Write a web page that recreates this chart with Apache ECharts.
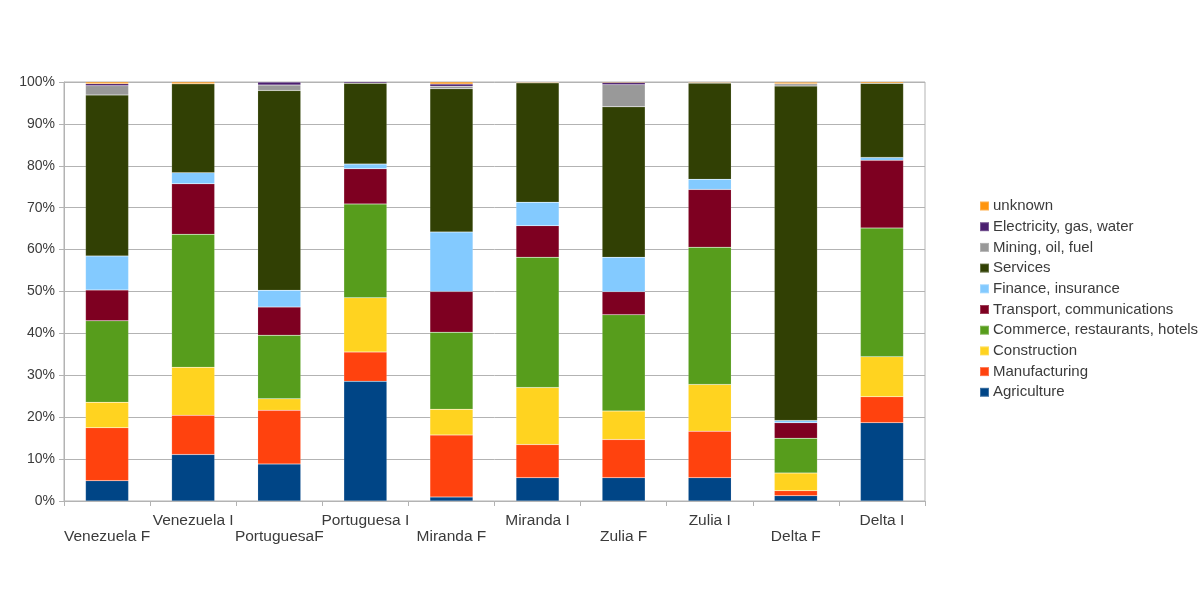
<!DOCTYPE html>
<html>
<head>
<meta charset="utf-8">
<script src="https://cdn.jsdelivr.net/npm/echarts@6/dist/echarts.min.js"></script>
<style>html,body{margin:0;padding:0;background:#fff;}#c{width:1200px;height:600px;}</style>
</head>
<body>
<div id="c"></div>
<script>
const categories = ['Venezuela F','Venezuela I','PortuguesaF','Portuguesa I','Miranda F','Miranda I','Zulia F','Zulia I','Delta F','Delta I'];
const agriculture   = [4.85, 11.1, 8.83, 28.56, 0.95, 5.57, 5.57, 5.57, 1.27, 18.7];
const manufacturing = [12.65, 9.35, 12.8, 7.0, 14.8, 7.9, 9.1, 11.1, 1.2, 6.2];
const construction  = [6.05, 11.45, 2.75, 12.95, 6.15, 13.6, 6.8, 11.15, 4.2, 9.55];
const commerce      = [19.45, 31.75, 15.2, 22.4, 18.4, 31.1, 23.0, 32.75, 8.3, 30.7];
const transport     = [7.36, 12.05, 6.7, 8.4, 9.7, 7.55, 5.5, 13.8, 3.7, 16.15];
const finance       = [8.14, 2.65, 4.0, 1.1, 14.2, 5.6, 8.2, 2.4, 0.55, 0.7];
const services      = [38.4, 21.25, 47.7, 19.3, 34.2, 28.5, 35.9, 23.0, 79.8, 17.7];
const mining        = [2.2, 0, 1.3, 0, 0.6, 0, 5.3, 0, 0.55, 0];
const electricity   = [0.5, 0, 0.7, 0.3, 0.5, 0, 0.5, 0, 0, 0];
const unknown       = [0.4, 0.4, 0, 0, 0.5, 0.2, 0.2, 0.2, 0.4, 0.3];

const seriesNames = ['Agriculture','Manufacturing','Construction','Commerce, restaurants, hotels','Transport, communications','Finance, insurance','Services','Mining, oil, fuel','Electricity, gas, water','unknown'];
const seriesData = [agriculture, manufacturing, construction, commerce, transport, finance, services, mining, electricity, unknown];
const colors = ['#004586','#ff420e','#ffd320','#579d1c','#7e0021','#83caff','#314004','#999999','#4b1f6f','#ff950e'];

const textColor = '#3b3b3b';
const fontFamily = '"Liberation Sans", Arial, sans-serif';

const chart = echarts.init(document.getElementById('c'), null, {renderer:'canvas'});
chart.setOption({
  animation: false,
  color: colors,
  textStyle: {fontFamily: fontFamily},
  grid: {left: 64, right: 275, top: 82, bottom: 99, show: true, borderColor: '#b3b3b3', borderWidth: 1, containLabel: false},
  legend: {
    orient: 'vertical',
    left: 974,
    top: 193,
    itemWidth: 9,
    itemHeight: 9,
    itemGap: 4.7,
    icon: 'rect',
    data: seriesNames.slice().reverse(),
    textStyle: {color: textColor, fontSize: 15, lineHeight: 16, fontFamily: fontFamily, padding: [0,0,0,-1]}
  },
  xAxis: {
    type: 'category',
    data: categories,
    axisLine: {show: true, lineStyle: {color: '#b3b3b3'}},
    axisTick: {show: true, length: 5, lineStyle: {color: '#b3b3b3'}},
    axisLabel: {
      interval: 0,
      color: textColor,
      fontSize: 15.5,
      lineHeight: 16,
      margin: 12,
      formatter: function (v, i) { return i % 2 === 0 ? '\n' + v : v; }
    }
  },
  yAxis: {
    type: 'value',
    min: 0,
    max: 100,
    interval: 10,
    axisLine: {show: true, lineStyle: {color: '#b3b3b3'}},
    axisTick: {show: true, length: 5, lineStyle: {color: '#b3b3b3'}},
    splitLine: {show: true, lineStyle: {color: '#b3b3b3'}},
    axisLabel: {color: textColor, fontSize: 14, margin: 9, padding: [3,0,0,0], formatter: '{value}%'}
  },
  series: seriesNames.map(function (n, i) {
    return {
      name: n,
      type: 'bar',
      stack: 'total',
      barWidth: '50%',
      data: seriesData[i],
      itemStyle: {borderColor: 'rgba(255,255,255,0.25)', borderWidth: 0.5}
    };
  })
});
</script>
</body>
</html>
